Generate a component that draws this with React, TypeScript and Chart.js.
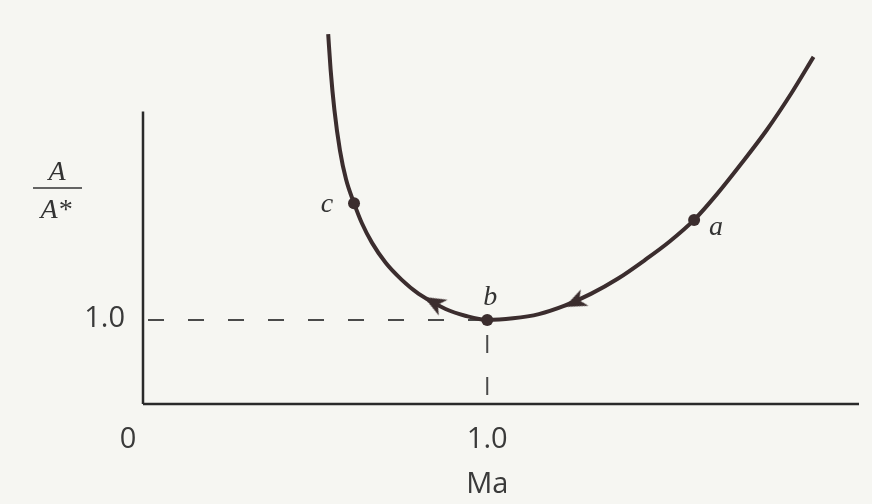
import { useEffect, useRef } from 'react';
import { Chart, registerables } from 'chart.js';

Chart.register(...registerables);

// ---- data ----
const curveMa = [0.538, 0.545, 0.556, 0.572, 0.590, 0.613, 0.636, 0.665, 0.705, 0.751, 0.801, 0.879, 0.936, 1.0, 1.075, 1.150, 1.225, 1.301, 1.379, 1.457, 1.529, 1.601, 1.668, 1.740, 1.812, 1.884, 1.948];
const curveRatio = [4.40, 3.98, 3.50, 3.02, 2.67, 2.39, 2.15, 1.92, 1.68, 1.48, 1.31, 1.13, 1.05, 1.0, 1.02, 1.07, 1.17, 1.31, 1.49, 1.71, 1.93, 2.19, 2.50, 2.87, 3.26, 3.70, 4.13];

const markerNames = ['c', 'b', 'a'];
const markerMa = [0.613, 1.0, 1.601];
const markerRatio = [2.39, 1.0, 2.19];

const arrowMa = [0.844, 1.254];
const arrowRatio = [1.21, 1.21];
const arrowAngles = [-61, -115];

const xTickValues = [0, 1.0];
const xTickLabels = ['0', '1.0'];
const yTickValues = [1.0];
const yTickLabels = ['1.0'];
const xTitle = 'Ma';
const yTitleTop = 'A';
const yTitleBottom = 'A*';

const xMax = 2.08;
const yMax = 4.45;
const yAxisTop = 3.48;
const criticalMa = 1.0;
const criticalRatio = 1.0;

const INK = '#3b2d2e';
const AXIS = '#2a2a2a';

function makeArrow(): HTMLCanvasElement {
  const c = document.createElement('canvas');
  c.width = 26;
  c.height = 26;
  const g = c.getContext('2d')!;
  g.fillStyle = INK;
  g.beginPath();
  g.moveTo(13, 2);
  g.lineTo(22, 24);
  g.lineTo(13, 18);
  g.lineTo(4, 24);
  g.closePath();
  g.fill();
  return c;
}

export default function App() {
  const ref = useRef<HTMLCanvasElement | null>(null);

  useEffect(() => {
    if (!ref.current) return;
    const arrowImg = makeArrow();

    const textPlugin = {
      id: 'textPlugin',
      beforeDraw(chart: any) {
        const { ctx, width, height } = chart;
        ctx.save();
        ctx.fillStyle = '#f6f6f2';
        ctx.fillRect(0, 0, width, height);
        ctx.restore();
      },
      afterDatasetsDraw(chart: any) {
        const { ctx, chartArea, scales } = chart;
        const xs = scales.x;
        const ys = scales.y;
        ctx.save();
        ctx.fillStyle = '#3a3a3a';
        ctx.textAlign = 'center';
        ctx.textBaseline = 'middle';
        ctx.font = '29px "Open Sans", sans-serif';
        xTickValues.forEach((v, i) => {
          const px = xs.getPixelForValue(v) + (v === 0 ? -15 : 0);
          ctx.fillText(xTickLabels[i], px, chartArea.bottom + 36);
        });
        ctx.textAlign = 'right';
        yTickValues.forEach((v, i) => {
          ctx.fillText(yTickLabels[i], chartArea.left - 18, ys.getPixelForValue(v) - 1);
        });
        ctx.textAlign = 'center';
        ctx.fillText(xTitle, xs.getPixelForValue(criticalMa), chartArea.bottom + 81);

        // y title fraction A / A*
        ctx.fillStyle = '#333';
        ctx.font = 'italic 28px "Liberation Serif", serif';
        ctx.fillText(yTitleTop, 57, 173);
        ctx.fillText(yTitleBottom, 56, 211);
        ctx.strokeStyle = '#333';
        ctx.lineWidth = 1.6;
        ctx.beginPath();
        ctx.moveTo(33, 188);
        ctx.lineTo(82, 188);
        ctx.stroke();

        // point labels
        const offs = [[-27, 2], [3, -22], [22, 8]];
        markerNames.forEach((n, i) => {
          const px = xs.getPixelForValue(markerMa[i]) + offs[i][0];
          const py = ys.getPixelForValue(markerRatio[i]) + offs[i][1];
          ctx.fillText(n, px, py);
        });
        ctx.restore();
      },
    };

    const chart = new Chart(ref.current, {
      type: 'scatter',
      data: {
        datasets: [
          {
            label: 'markers',
            data: markerMa.map((x, i) => ({ x, y: markerRatio[i] })),
            pointRadius: 6,
            pointBackgroundColor: INK,
            pointBorderColor: INK,
            pointBorderWidth: 0,
            showLine: false,
            clip: false,
          } as any,
          {
            label: 'arrows',
            data: arrowMa.map((x, i) => ({ x, y: arrowRatio[i] })),
            pointStyle: arrowImg,
            rotation: arrowAngles,
            pointRadius: 12,
            showLine: false,
            clip: false,
          } as any,
          {
            label: 'A/A*',
            data: curveMa.map((x, i) => ({ x, y: curveRatio[i] })),
            showLine: true,
            borderColor: INK,
            borderWidth: 4,
            pointRadius: 0,
            cubicInterpolationMode: 'monotone',
            clip: false,
          } as any,
          {
            label: 'hguide',
            data: [{ x: 0, y: criticalRatio }, { x: criticalMa, y: criticalRatio }],
            showLine: true,
            borderColor: '#4a4a4a',
            borderWidth: 2,
            borderDash: [16, 24],
            borderDashOffset: 35,
            pointRadius: 0,
            clip: false,
          } as any,
          {
            label: 'vguide',
            data: [{ x: criticalMa, y: criticalRatio }, { x: criticalMa, y: 0 }],
            showLine: true,
            borderColor: '#4a4a4a',
            borderWidth: 2,
            borderDash: [18, 24],
            borderDashOffset: 27,
            pointRadius: 0,
            clip: false,
          } as any,
          {
            label: 'xaxis',
            data: [{ x: 0, y: 0 }, { x: xMax, y: 0 }],
            showLine: true,
            borderColor: AXIS,
            borderWidth: 2.5,
            pointRadius: 0,
            clip: false,
          } as any,
          {
            label: 'yaxis',
            data: [{ x: 0, y: 0 }, { x: 0, y: yAxisTop }],
            showLine: true,
            borderColor: AXIS,
            borderWidth: 2.5,
            pointRadius: 0,
            clip: false,
          } as any,
        ],
      },
      options: {
        animation: false,
        responsive: false,
        devicePixelRatio: 1,
        layout: { padding: { left: 143, right: 10, top: 30, bottom: 100 } },
        plugins: { legend: { display: false }, tooltip: { enabled: false } },
        events: [],
        scales: {
          x: { type: 'linear', min: 0, max: xMax, display: false },
          y: { type: 'linear', min: 0, max: yMax, display: false },
        },
      },
      plugins: [textPlugin],
    } as any);

    return () => chart.destroy();
  }, []);

  return (
    <div style={{ position: 'fixed', left: 0, top: 0, width: 872, height: 504 }}>
      <canvas ref={ref} width={872} height={504} style={{ width: 872, height: 504 }} />
    </div>
  );
}
